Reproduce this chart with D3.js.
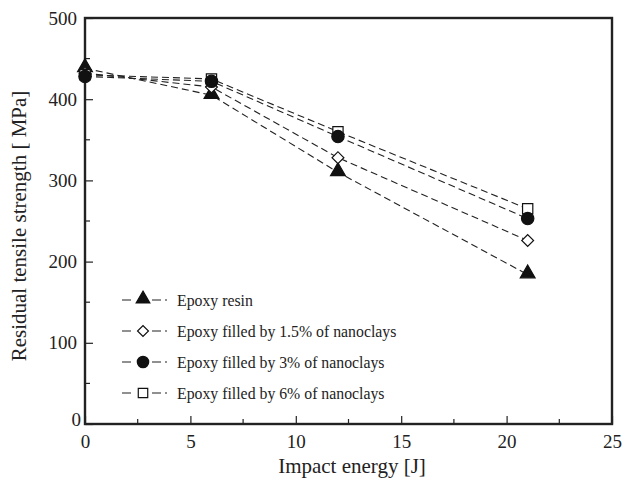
<!DOCTYPE html>
<html>
<head>
<meta charset="utf-8">
<script src="https://cdn.jsdelivr.net/npm/d3@7"></script>
<style>
  body { margin: 0; background: #fff; }
  svg text { font-family: 'Liberation Serif', 'Times New Roman', serif; fill: #222; }
</style>
</head>
<body>
<svg id="chart" width="623" height="482"></svg>
<script>
var energy = [0, 6, 12, 21]
var resin = [438, 405, 310, 184]
var clay15 = [432, 415, 328, 226]
var clay3 = [428, 422, 354, 253]
var clay6 = [430, 425, 360, 265]
var seriesNames = ['Epoxy resin', 'Epoxy filled by 1.5% of nanoclays', 'Epoxy filled by 3% of nanoclays', 'Epoxy filled by 6% of nanoclays']
var xTicks = [0, 5, 10, 15, 20, 25]
var yTicks = [0, 100, 200, 300, 400, 500]

var margin = { top: 18, right: 11, bottom: 58, left: 85 }
var width = 623 - margin.left - margin.right
var height = 482 - margin.top - margin.bottom

var svg = d3.select('#chart')
  .append('g')
  .attr('transform', 'translate(' + margin.left + ',' + margin.top + ')')

var x = d3.scaleLinear().domain([0, 25]).range([0, width])
var y = d3.scaleLinear().domain([0, 500]).range([height, 0])

// minor ticks (inward)
svg.selectAll('.xminor').data(d3.range(2.5, 25, 5)).enter().append('line')
  .attr('x1', d => x(d)).attr('x2', d => x(d))
  .attr('y1', height).attr('y2', height - 5)
  .attr('stroke', '#222').attr('stroke-width', 1.2)
svg.selectAll('.yminor').data(d3.range(50, 500, 100)).enter().append('line')
  .attr('y1', d => y(d)).attr('y2', d => y(d))
  .attr('x1', 0).attr('x2', 5)
  .attr('stroke', '#222').attr('stroke-width', 1.2)

var xAxis = d3.axisBottom(x).tickValues(xTicks).tickSizeInner(-8).tickSizeOuter(0).tickPadding(11)
var yAxis = d3.axisLeft(y).tickValues(yTicks).tickSizeInner(-8).tickSizeOuter(0).tickPadding(8)

var gx = svg.append('g')
  .attr('transform', 'translate(0,' + height + ')')
  .call(xAxis)
var gy = svg.append('g').call(yAxis)

;[gx, gy].forEach(g => {
  g.select('.domain').remove()
  g.selectAll('line').attr('stroke', '#222').attr('stroke-width', 1.2)
  g.selectAll('text').attr('font-size', 19).attr('fill', '#222')
})
gy.selectAll('text').filter(d => d === 0).attr('dy', '0.1em').attr('dx', 4)

// frame
svg.append('rect')
  .attr('x', 0).attr('y', 0)
  .attr('width', width).attr('height', height)
  .attr('fill', 'none').attr('stroke', '#222').attr('stroke-width', 2.4)

var series = [
  { name: seriesNames[0], values: resin, marker: 'triangle', fill: '#111' },
  { name: seriesNames[1], values: clay15, marker: 'diamond', fill: '#fff' },
  { name: seriesNames[3], values: clay6, marker: 'square', fill: '#fff' },
  { name: seriesNames[2], values: clay3, marker: 'circle', fill: '#111' }
]

var symbolType = {
  triangle: d3.symbolTriangle,
  diamond: d3.symbolSquare,
  square: d3.symbolSquare,
  circle: d3.symbolCircle
}
var symbolSize = { triangle: 95, diamond: 70, square: 105, circle: 120 }

function drawMarker (g, s, px, py, scale) {
  var p = g.append('path')
    .attr('d', d3.symbol().type(symbolType[s.marker]).size(symbolSize[s.marker] * (scale || 1))())
    .attr('fill', s.fill)
    .attr('stroke', '#111')
    .attr('stroke-width', 1.2)
  var t = 'translate(' + px + ',' + py + ')'
  if (s.marker === 'diamond') t += ' rotate(45)'
  if (s.marker === 'triangle') t += ' translate(0,-1)'
  p.attr('transform', t)
}

var line = d3.line().x((d, i) => x(energy[i])).y(d => y(d))

series.forEach(s => {
  svg.append('path')
    .datum(s.values)
    .attr('d', line)
    .attr('fill', 'none')
    .attr('stroke', '#222')
    .attr('stroke-width', 1.1)
    .attr('stroke-dasharray', '7,4')
})
series.forEach(s => {
  s.values.forEach((v, i) => drawMarker(svg, s, x(energy[i]), y(v)))
})

// legend
var legendOrder = [series[0], series[1], series[3], series[2]]
var legend = svg.append('g').attr('transform', 'translate(37,282)')
legendOrder.forEach((s, i) => {
  var ly = i * 31
  legend.append('line')
    .attr('x1', 0).attr('x2', 46).attr('y1', ly).attr('y2', ly)
    .attr('stroke', '#222').attr('stroke-width', 1.1)
    .attr('stroke-dasharray', '9,21,9,4,2')
  drawMarker(legend, s, 21, ly, 0.85)
  legend.append('text')
    .attr('x', 55).attr('y', ly + 6)
    .attr('font-size', 15.8)
    .text(s.name)
})

// axis titles
svg.append('text')
  .attr('x', 267).attr('y', height + 49)
  .attr('text-anchor', 'middle')
  .attr('font-size', 21)
  .text('Impact energy [J]')

svg.append('text')
  .attr('transform', 'translate(' + (-59) + ',' + 208 + ') rotate(-90)')
  .attr('text-anchor', 'middle')
  .attr('font-size', 21)
  .text('Residual tensile strength [ MPa]')
</script>
</body>
</html>
